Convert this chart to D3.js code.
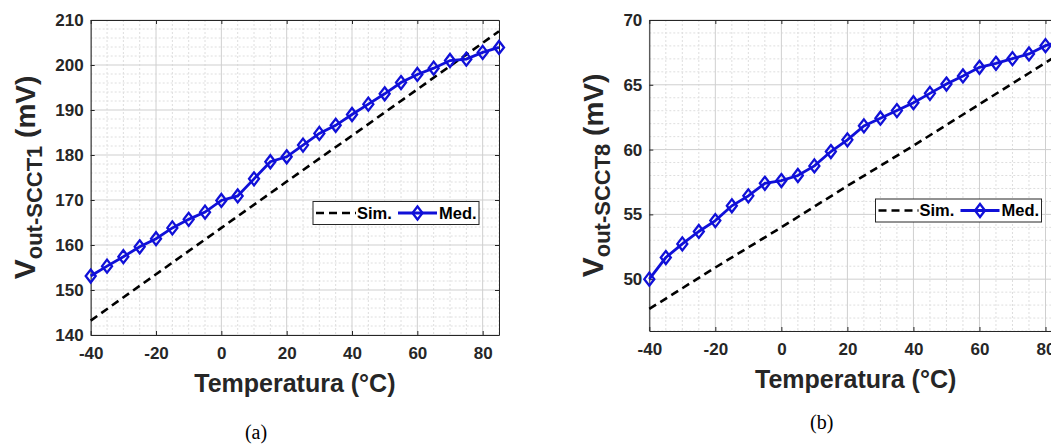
<!DOCTYPE html>
<html>
<head>
<meta charset="utf-8">
<script src="https://cdn.jsdelivr.net/npm/d3@7"></script>
<style>
  body { margin: 0; background: #fff; }
  svg { display: block; }
</style>
</head>
<body>
<svg id="chart" width="1051" height="444"></svg>
<script>
// temperaturas medidas (°C)
const temps = [-40, -35, -30, -25, -20, -15, -10, -5, 0, 5, 10, 15, 20, 25, 30, 35, 40, 45, 50, 55, 60, 65, 70, 75, 80, 85];

// (a) SCCT1
const medA = [153.1, 155.3, 157.4, 159.6, 161.4, 163.8, 165.7, 167.3, 169.9, 170.9, 174.7, 178.5, 179.6,
    182.2, 184.8, 186.6, 189.0, 191.3, 193.6, 196.1, 197.9, 199.3, 201.0, 201.3, 202.8, 203.9];
const simTempsA = [-40, -20, 0, 20, 40, 60, 80, 85];
const simA = [143.2, 153.5, 163.8, 174.1, 184.3, 194.6, 204.9, 207.5];

// (b) SCCT8
const medB = [50.0, 51.67, 52.72, 53.68, 54.52, 55.66, 56.43, 57.4, 57.61, 58.0, 58.74, 59.85, 60.75,
    61.83, 62.42, 63.01, 63.62, 64.34, 65.06, 65.68, 66.35, 66.66, 67.02, 67.38, 68.02, 68.4];
const simTempsB = [-40, -20, 0, 20, 40, 60, 80, 85];
const simB = [47.7, 50.9, 54.0, 57.2, 60.3, 63.5, 66.7, 67.5];

const xTicks = [-40, -20, 0, 20, 40, 60, 80];
const yTicksA = [140, 150, 160, 170, 180, 190, 200, 210];
const yTicksB = [50, 55, 60, 65, 70];
const legendLabels = ["Sim.", "Med."];

const FONT = "'Liberation Sans', Arial, Helvetica, sans-serif";
const AXIS_COLOR = "#262626";
const BLUE = "#1010d8";

const svg = d3.select("#chart");
svg.append("rect").attr("width", 1051).attr("height", 444).attr("fill", "#fff");

function drawPanel(cfg) {
    const g = svg.append("g");

    const x = d3.scaleLinear().domain([-40, 85]).range([cfg.left, cfg.right]);
    const y = d3.scaleLinear().domain(cfg.yDomain).range([cfg.bottom, cfg.top]);

    // grid menor
    const xMinor = d3.range(-40, 85.1, 5).filter(v => !xTicks.includes(v));
    const yMinor = d3.range(cfg.yDomain[0], cfg.yDomain[1] + 0.01, cfg.yMinorStep)
        .filter(v => !cfg.yTicks.includes(v));

    g.selectAll(".xminor").data(xMinor).enter().append("line")
        .attr("x1", d => x(d)).attr("x2", d => x(d))
        .attr("y1", cfg.top).attr("y2", cfg.bottom)
        .attr("stroke", "#dedede").attr("stroke-dasharray", "2,2");
    g.selectAll(".yminor").data(yMinor).enter().append("line")
        .attr("x1", cfg.left).attr("x2", cfg.right)
        .attr("y1", d => y(d)).attr("y2", d => y(d))
        .attr("stroke", "#dedede").attr("stroke-dasharray", "2,2");

    // grid mayor
    g.selectAll(".xmajor").data(xTicks).enter().append("line")
        .attr("x1", d => x(d)).attr("x2", d => x(d))
        .attr("y1", cfg.top).attr("y2", cfg.bottom)
        .attr("stroke", "#cfcfcf");
    g.selectAll(".ymajor").data(cfg.yTicks).enter().append("line")
        .attr("x1", cfg.left).attr("x2", cfg.right)
        .attr("y1", d => y(d)).attr("y2", d => y(d))
        .attr("stroke", "#cfcfcf");

    // ejes
    const styleAxis = sel => {
        sel.attr("font-family", FONT).attr("font-size", 17).attr("font-weight", "bold");
        sel.selectAll("path, line").attr("stroke", AXIS_COLOR);
        sel.selectAll("text").attr("fill", AXIS_COLOR);
    };
    const fmt = d => String(d);

    g.append("g").attr("transform", `translate(0,${cfg.bottom})`)
        .call(d3.axisBottom(x).tickValues(xTicks).tickSizeInner(-4).tickSizeOuter(0).tickPadding(12)
            .tickFormat(fmt))
        .call(styleAxis);
    g.append("g").attr("transform", `translate(${cfg.left},0)`)
        .call(d3.axisLeft(y).tickValues(cfg.yTicks).tickSizeInner(-4).tickSizeOuter(0).tickPadding(7)
            .tickFormat(fmt))
        .call(styleAxis);
    g.append("g").attr("transform", `translate(0,${cfg.top})`)
        .call(d3.axisTop(x).tickValues(xTicks).tickSizeInner(-4).tickSizeOuter(0).tickFormat(""))
        .call(styleAxis);
    g.append("g").attr("transform", `translate(${cfg.right},0)`)
        .call(d3.axisRight(y).tickValues(cfg.yTicks).tickSizeInner(-4).tickSizeOuter(0).tickFormat(""))
        .call(styleAxis);

    // simulado
    const simData = cfg.simTemps.map((t, i) => ({ t: t, v: cfg.sim[i] }));
    const line = d3.line().x(d => x(d.t)).y(d => y(d.v));
    g.append("path")
        .datum(simData)
        .attr("d", line)
        .attr("fill", "none")
        .attr("stroke", "#000")
        .attr("stroke-width", 2.6)
        .attr("stroke-dasharray", "8,5");

    // medido
    const medData = temps.map((t, i) => ({ t: t, v: cfg.med[i] }));
    g.append("path")
        .datum(medData)
        .attr("d", line)
        .attr("fill", "none")
        .attr("stroke", BLUE)
        .attr("stroke-width", 2.8);

    const diamond = "M0,-6.5L5,0L0,6.5L-5,0Z";
    g.selectAll(".mk").data(medData).enter().append("path")
        .attr("d", diamond)
        .attr("transform", d => `translate(${x(d.t)},${y(d.v)})`)
        .attr("fill", "none")
        .attr("stroke", BLUE)
        .attr("stroke-width", 2.3);

    // títulos
    const cx = (cfg.left + cfg.right) / 2;
    g.append("text")
        .attr("x", cx).attr("y", cfg.bottom + 57)
        .attr("text-anchor", "middle")
        .attr("font-family", FONT).attr("font-size", 25).attr("font-weight", "bold")
        .attr("fill", AXIS_COLOR)
        .text("Temperatura (°C)");

    const yt = g.append("text")
        .attr("transform", `translate(${cfg.yTitleX},${(cfg.top + cfg.bottom) / 2}) rotate(-90)`)
        .attr("text-anchor", "middle")
        .attr("font-family", FONT).attr("font-weight", "bold")
        .attr("fill", AXIS_COLOR);
    yt.append("tspan").attr("font-size", 30).text("V");
    yt.append("tspan").attr("font-size", 22).attr("dy", 7).text(cfg.sub);
    yt.append("tspan").attr("font-size", 28).attr("dy", -7).text(" (mV)");

    // leyenda
    const lx = cfg.legendX, ly = cfg.legendY, lh = 23, cy = ly + lh / 2;
    g.append("rect")
        .attr("x", lx).attr("y", ly).attr("width", 166).attr("height", lh)
        .attr("fill", "#fff").attr("stroke", AXIS_COLOR).attr("stroke-width", 1);
    g.append("line")
        .attr("x1", lx + 3).attr("x2", lx + 43).attr("y1", cy).attr("y2", cy)
        .attr("stroke", "#000").attr("stroke-width", 2.6).attr("stroke-dasharray", "8,5");
    g.append("line")
        .attr("x1", lx + 85).attr("x2", lx + 124).attr("y1", cy).attr("y2", cy)
        .attr("stroke", BLUE).attr("stroke-width", 2.8);
    g.append("path")
        .attr("d", diamond)
        .attr("transform", `translate(${lx + 104.5},${cy})`)
        .attr("fill", "none").attr("stroke", BLUE).attr("stroke-width", 2.3);
    g.selectAll(".lt").data(legendLabels).enter().append("text")
        .attr("x", (d, i) => i === 0 ? lx + 44 : lx + 126)
        .attr("y", cy + 5.7)
        .attr("font-family", FONT).attr("font-size", 16.5).attr("font-weight", "bold")
        .attr("fill", "#000")
        .text(d => d);

    // (a) / (b)
    g.append("text")
        .attr("x", cfg.capX).attr("y", cfg.capY)
        .attr("text-anchor", "middle")
        .attr("font-family", "'Liberation Serif', 'Times New Roman', serif")
        .attr("font-size", 20)
        .attr("fill", "#000")
        .text(cfg.caption);
}

drawPanel({
    left: 90.7, right: 499, top: 20, bottom: 335,
    yDomain: [140, 210], yTicks: yTicksA, yMinorStep: 2,
    med: medA, simTemps: simTempsA, sim: simA,
    sub: "out-SCCT1", yTitleX: 35,
    legendX: 313, legendY: 201.5,
    caption: "(a)", capX: 256, capY: 438.5
});

drawPanel({
    left: 649.3, right: 1062, top: 20, bottom: 331,
    yDomain: [46, 70], yTicks: yTicksB, yMinorStep: 1,
    med: medB, simTemps: simTempsB, sim: simB,
    sub: "out-SCCT8", yTitleX: 603,
    legendX: 875.5, legendY: 199,
    caption: "(b)", capX: 821.7, capY: 428.6
});
</script>
</body>
</html>
